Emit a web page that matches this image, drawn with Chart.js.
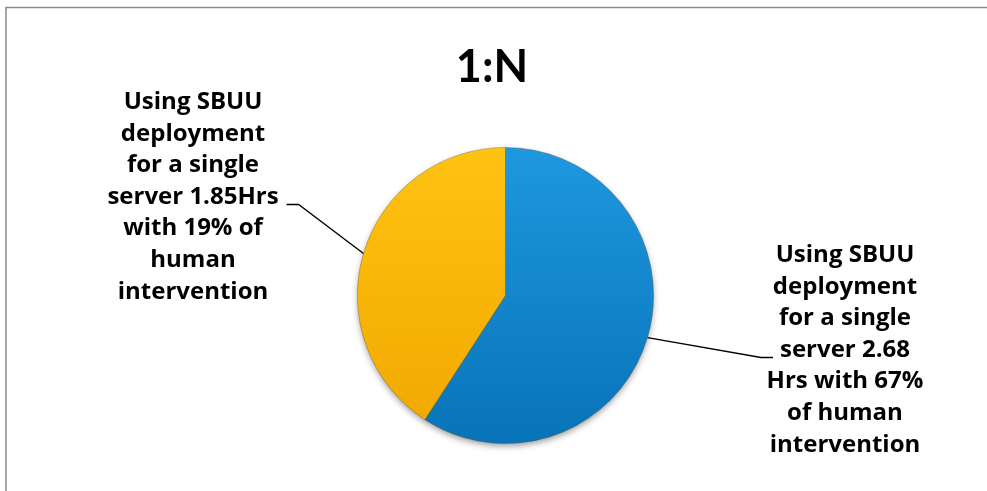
<!DOCTYPE html>
<html>
<head>
<meta charset="utf-8">
<script src="https://cdn.jsdelivr.net/npm/chart.js@4.4.1/dist/chart.umd.min.js"></script>
<style>
  html, body { margin: 0; padding: 0; background: #fff; overflow: hidden; }
  #wrap { width: 987px; height: 491px; }
</style>
</head>
<body>
<div id="wrap"><canvas id="myChart"></canvas></div>
<script>
// data
const chartTitle = '1:N';
const categories = ['SBUU 2.68 Hrs (67% human intervention)', 'SBUU 1.85 Hrs (19% human intervention)'];
const hours = [2.68, 1.85];
const labelLines = [
    ['Using SBUU', 'deployment', 'for a single', 'server 2.68', 'Hrs with 67%', 'of human', 'intervention'],
    ['Using SBUU', 'deployment', 'for a single', 'server 1.85Hrs', 'with 19% of', 'human', 'intervention']
];
const leaderLine = [3, 3];   // which text line the leader joins
const sliceTop = ['#1e98df', '#ffc312'];
const sliceBottom = ['#0873b9', '#f1a700'];

// where the label blocks sit (centre x, first baseline y)
const labelPos = [
    { x: 845, y: 262, side: 'right' },
    { x: 193, y: 109, side: 'left' }
];

function sliceGradient(ctx) {
    const i = ctx.dataIndex;
    const area = ctx.chart.chartArea;
    if (!area || i === undefined) return sliceTop[i || 0];
    const g = ctx.chart.ctx.createLinearGradient(0, area.top, 0, area.bottom);
    g.addColorStop(0, sliceTop[i]);
    g.addColorStop(1, sliceBottom[i]);
    return g;
}

const decor = {
    id: 'decor',
    beforeDraw(chart) {
        const c = chart.ctx;
        c.save();
        c.fillStyle = '#fff';
        c.fillRect(0, 0, chart.width, chart.height);
        c.strokeStyle = '#8c8c8c';
        c.lineWidth = 1.5;
        c.beginPath();
        c.moveTo(6, chart.height);
        c.lineTo(6, 7.5);
        c.lineTo(chart.width, 7.5);
        c.stroke();
        c.fillStyle = '#000';
        c.font = 'bold 45px Lato, sans-serif';
        c.textAlign = 'center';
        c.textBaseline = 'alphabetic';
        c.fillText(chartTitle, 492, 82);
        c.restore();
    },
    beforeDatasetsDraw(chart) {
        const arc = chart.getDatasetMeta(0).data[0];
        if (!arc) return;
        const c = chart.ctx;
        c.save();
        c.shadowColor = 'rgba(0,0,0,0.45)';
        c.shadowBlur = 7;
        c.shadowOffsetY = 3;
        c.fillStyle = '#1a7fc4';
        c.beginPath();
        c.arc(arc.x, arc.y, arc.outerRadius - 1, 0, Math.PI * 2);
        c.fill();
        c.restore();
    },
    afterDatasetsDraw(chart) {
        const c = chart.ctx;
        const meta = chart.getDatasetMeta(0);
        c.save();
        c.font = 'bold 24px "Open Sans", sans-serif';
        c.textAlign = 'center';
        c.textBaseline = 'alphabetic';
        c.fillStyle = '#000';
        c.strokeStyle = '#000';
        c.lineWidth = 1.3;
        const lh = 31.6;
        meta.data.forEach((arc, i) => {
            const p = labelPos[i];
            const lines = labelLines[i];
            lines.forEach((t, k) => c.fillText(t, p.x, p.y + k * lh));
            const k = leaderLine[i];
            const w = c.measureText(lines[k]).width;
            const ly = Math.round(p.y + k * lh) + 0.5;
            const mid = (arc.startAngle + arc.endAngle) / 2;
            const ax = arc.x + Math.cos(mid) * arc.outerRadius;
            const ay = arc.y + Math.sin(mid) * arc.outerRadius;
            let endX, elbowX;
            if (p.side === 'right') {
                endX = p.x - w / 2 - 7;
                elbowX = endX - 12;
            } else {
                endX = p.x + w / 2 + 8;
                elbowX = endX + 12;
            }
            c.beginPath();
            c.moveTo(ax, ay);
            c.lineTo(elbowX, ly);
            c.lineTo(endX, ly);
            c.stroke();
        });
        c.restore();
    }
};

const ctx = document.getElementById('myChart');

new Chart(ctx, {
    type: 'pie',
    data: {
        labels: categories,
        datasets: [{
            data: hours,
            backgroundColor: sliceGradient,
            borderColor: 'rgba(90,80,40,0.45)',
            borderWidth: 0.8
        }]
    },
    options: {
        responsive: true,
        maintainAspectRatio: false,
        animation: false,
        layout: {
            padding: { left: 357, right: 333, top: 147, bottom: 47 }
        },
        plugins: {
            legend: { display: false },
            tooltip: { enabled: false },
            title: { display: false }
        }
    },
    plugins: [decor]
});
</script>
</body>
</html>
